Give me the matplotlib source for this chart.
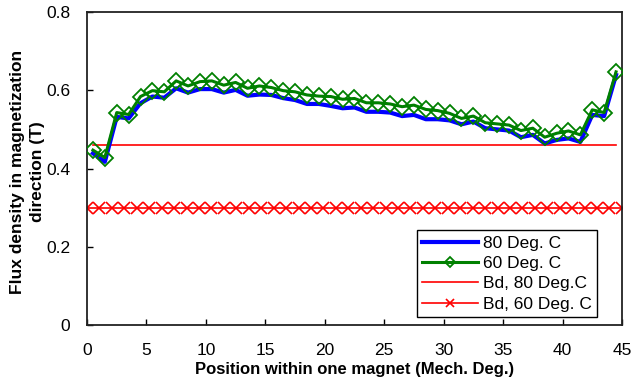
import numpy as np
import matplotlib.pyplot as plt

plt.rcParams['font.family'] = ['Liberation Sans', 'DejaVu Sans']

# positions (mech. deg.)
pos = [0.5 + i for i in range(45)]
pos_bd60 = [0.0, 1.05, 2.09, 3.14, 4.19, 5.23, 6.28, 7.33, 8.37, 9.42, 10.47,
            11.51, 12.56, 13.60, 14.65, 15.70, 16.74, 17.79, 18.84, 19.88, 20.93,
            21.98, 23.02, 24.07, 25.12, 26.16, 27.21, 28.26, 29.30, 30.35, 31.40,
            32.44, 33.49, 34.53, 35.58, 36.63, 37.67, 38.72, 39.77, 40.81, 41.86,
            42.91, 43.95, 45.0]

b80 = [0.439, 0.417, 0.532, 0.528, 0.567, 0.584, 0.581, 0.605, 0.594, 0.603,
       0.603, 0.594, 0.601, 0.586, 0.589, 0.588, 0.580, 0.575, 0.565, 0.565,
       0.560, 0.554, 0.556, 0.545, 0.545, 0.543, 0.534, 0.537, 0.526, 0.526,
       0.523, 0.513, 0.520, 0.503, 0.500, 0.497, 0.480, 0.486, 0.464, 0.473,
       0.477, 0.468, 0.537, 0.534, 0.639]
b60 = [0.447, 0.428, 0.543, 0.538, 0.584, 0.599, 0.596, 0.624, 0.611, 0.622,
       0.624, 0.613, 0.620, 0.605, 0.611, 0.607, 0.599, 0.596, 0.588, 0.585,
       0.584, 0.577, 0.579, 0.568, 0.568, 0.565, 0.558, 0.562, 0.551, 0.548,
       0.541, 0.528, 0.534, 0.517, 0.514, 0.511, 0.497, 0.503, 0.480, 0.490,
       0.496, 0.486, 0.550, 0.543, 0.647]
bd80 = [0.46] * 45
bd60 = [0.30] * 44

fig = plt.figure(figsize=(6.31, 3.80), dpi=100)
ax = fig.add_axes([0.1379, 0.1447, 0.8478, 0.8237])

ax.plot(pos, b80, color='#0000ff', lw=3, label='80 Deg. C', zorder=3)
ax.plot(pos, b60, color='#008000', lw=2.2, marker='D', ms=8, mfc='none',
        mec='#008000', mew=1.3, label='60 Deg. C', zorder=4)
ax.plot(pos, bd80, color='#ff0000', lw=1.2, label='Bd, 80 Deg.C', zorder=2)
ax.plot(pos_bd60, bd60, color='#ff0000', lw=1.2, marker='x', ms=9, mew=1.2,
        label='Bd, 60 Deg. C', zorder=2)

ax.set_xlim(0, 45)
ax.set_ylim(0, 0.8)
ax.set_xticks(range(0, 46, 5))
ax.set_yticks([0, 0.2, 0.4, 0.6, 0.8])
ax.set_yticklabels(['0', '0.2', '0.4', '0.6', '0.8'])
ax.tick_params(direction='in', length=4, width=1, labelsize=12.5)
ax.tick_params(axis='x', pad=13)
ax.tick_params(axis='y', pad=12)
for s in ax.spines.values():
    s.set_linewidth(1.3)
    s.set_color('#222222')

ax.set_xlabel('Position within one magnet (Mech. Deg.)', fontsize=12,
              fontweight='bold')
ax.xaxis.set_label_coords(0.5, -0.118)
ax.set_ylabel('Flux density in magnetization\ndirection (T)', fontsize=12.5,
              fontweight='bold', linespacing=1.45)
ax.yaxis.set_label_coords(-0.078, 0.49)

leg = ax.legend(loc='lower right', bbox_to_anchor=(0.953, 0.026),
                borderaxespad=0, fontsize=12.5, fancybox=False, framealpha=1,
                edgecolor='black', handlelength=3.2, labelspacing=0.3,
                borderpad=0.3, handletextpad=0.3, markerscale=0.7)
leg.get_frame().set_linewidth(1.0)

fig.savefig('out.png', dpi=100)
